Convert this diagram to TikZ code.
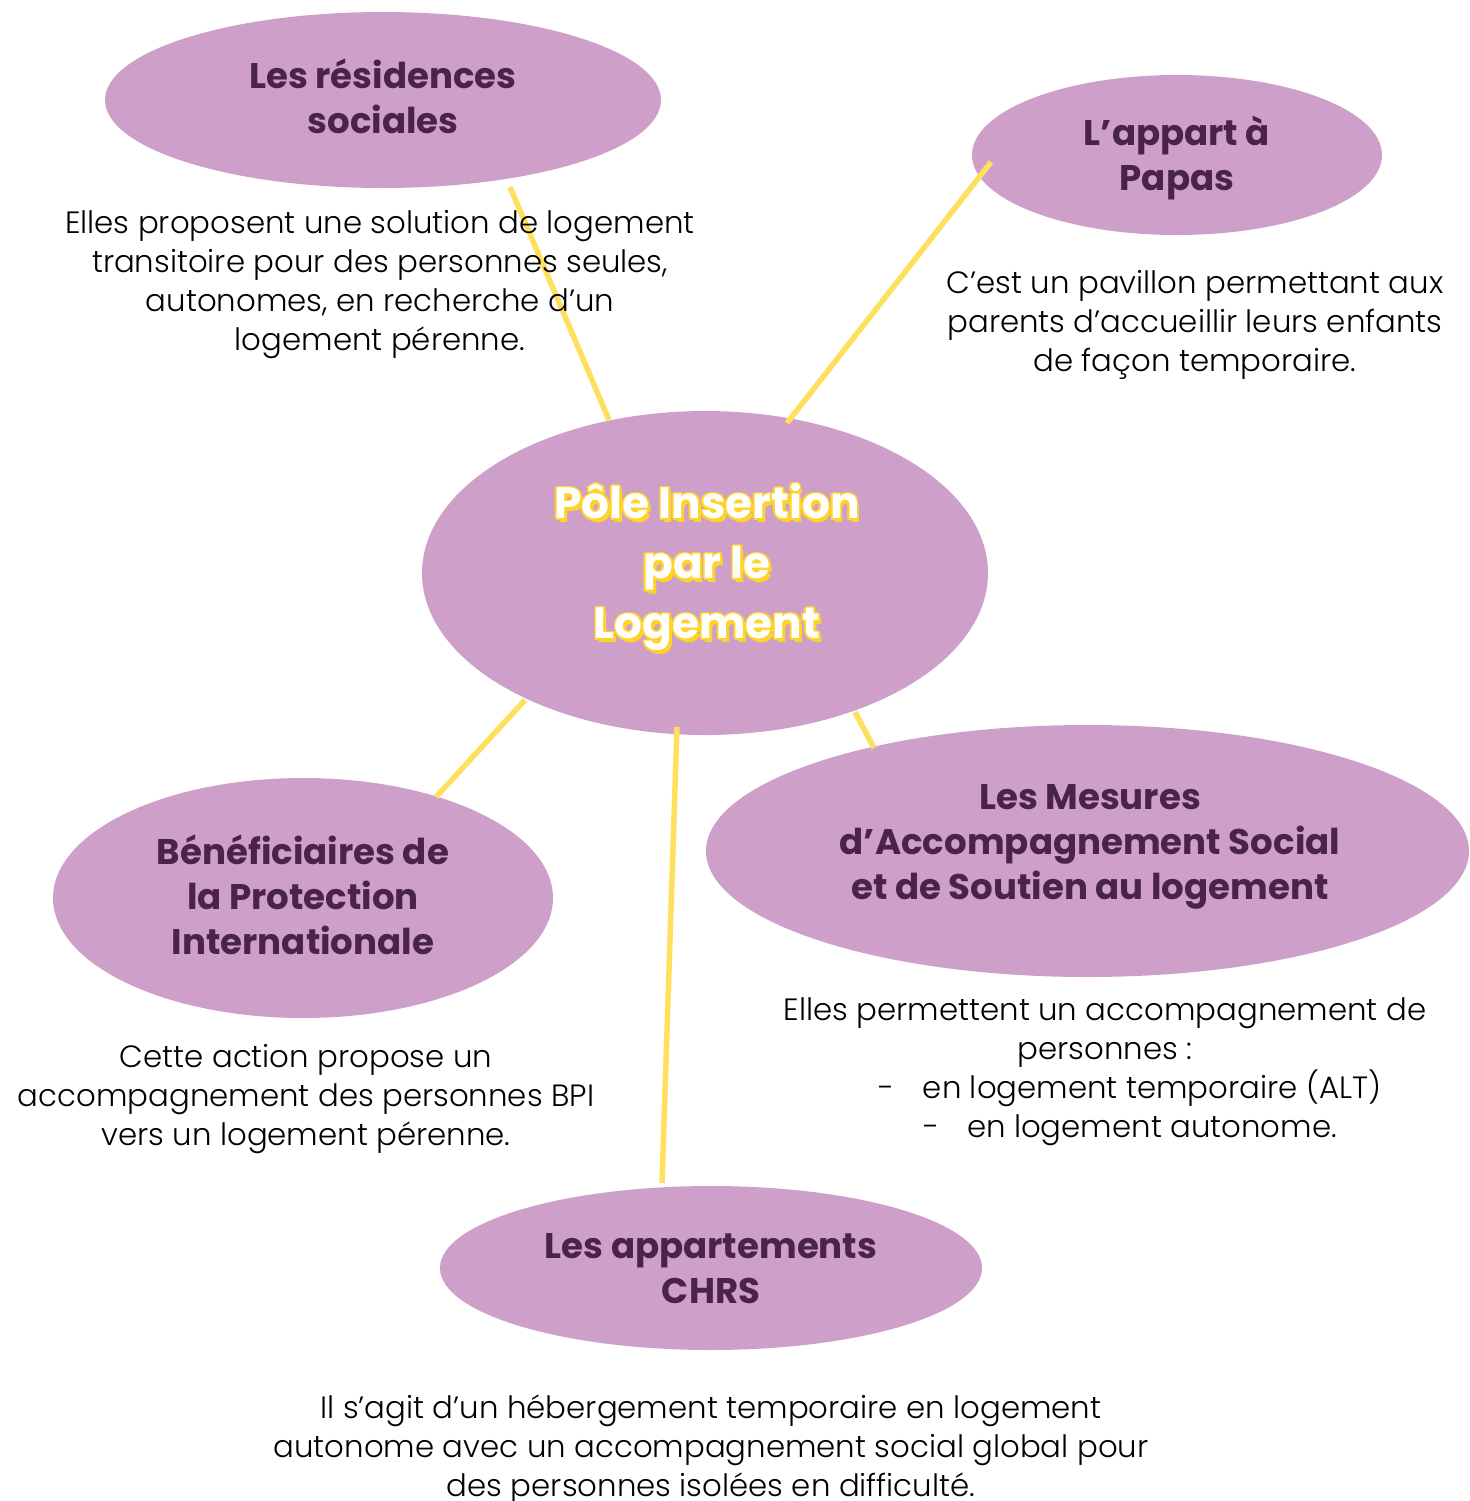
\documentclass[tikz,border=0pt]{standalone}
\usepackage{fontspec}
\setmainfont{Poppins}
\IfFontExistsTF{Poppins Light}{\newfontfamily\descfont{Poppins Light}}{\newfontfamily\descfont{Poppins}}
\usetikzlibrary{shapes.geometric}
\definecolor{bubblefill}{HTML}{CE9FC9}
\definecolor{headc}{HTML}{4A2448}
\definecolor{linky}{HTML}{FFDF5E}
\definecolor{titley}{HTML}{FFD42A}
\newcommand\ttlline[1]{\leavevmode
 \rlap{\color{titley}\kern1.4pt\raisebox{-1.6pt}{#1}}%
 \rlap{\color{titley}\kern0.9pt#1}%
 \rlap{\color{titley}\kern-0.9pt#1}%
 \rlap{\color{titley}\raisebox{0.9pt}{#1}}%
 \rlap{\color{titley}\raisebox{-0.9pt}{#1}}%
 \rlap{\color{titley}\kern0.65pt\raisebox{0.65pt}{#1}}%
 \rlap{\color{titley}\kern-0.65pt\raisebox{0.65pt}{#1}}%
 \rlap{\color{titley}\kern0.65pt\raisebox{-0.65pt}{#1}}%
 \rlap{\color{titley}\kern-0.65pt\raisebox{-0.65pt}{#1}}%
 {\color{white}#1}}
\begin{document}
\begin{tikzpicture}[x=0.5pt,y=-0.5pt,
  bubble/.style={ellipse, fill=bubblefill, inner sep=0pt},
  head/.style={text=headc, font=\bfseries\fontsize{17.8}{22.4}\selectfont, align=center, inner sep=0pt},
  title/.style={font=\bfseries\fontsize{21.9}{30}\selectfont, align=center, inner sep=0pt},
  desc/.style={font=\descfont\fontsize{15.4}{19.5}\selectfont, align=center, inner sep=0pt, text=black},
  link/.style={draw=linky, line width=2.75pt}]
\useasboundingbox (0,0) rectangle (1469,1501);
% ellipses
\node[bubble, minimum width=278pt, minimum height=88pt] (res) at (383,100) {};
\node[bubble, minimum width=205pt, minimum height=80pt] (papas) at (1177,155) {};
\node[bubble, minimum width=283pt, minimum height=162pt] (pole) at (705,573) {};
\node[bubble, minimum width=250pt, minimum height=120pt] (bpi) at (303,898) {};
\node[bubble, minimum width=381.5pt, minimum height=126pt] (mass) at (1087.5,851) {};
\node[bubble, minimum width=271pt, minimum height=82pt] (chrs) at (711,1268) {};
% connectors
\draw[link] ([shift={(127,87)}]res.center) -- ([shift={(-96,-153)}]pole.center);
\draw[link] ([shift={(-186,7)}]papas.center) -- ([shift={(82,-150)}]pole.center);
\draw[link] ([shift={(-180,127)}]pole.center) -- ([shift={(133,-101)}]bpi.center);
\draw[link] ([shift={(-28,154)}]pole.center) -- ([shift={(-49,-85)}]chrs.center);
\draw[link] ([shift={(150,139)}]pole.center) -- ([shift={(-213.5,-103)}]mass.center);
% headings
\node[head] (res-t) at (383,96) {Les résidences\\sociales};
\node[head] (papas-t) at (1177,158) {L’appart à\\Papas};
\node[title] (pole-t) at (707,568) {\ttlline{Pôle Insertion}\\\ttlline{par le}\\\ttlline{Logement}};
\node[head] (bpi-t) at (303,895) {Bénéficiaires de\\la Protection\\Internationale};
\node[head] (mass-t) at (1090,847) {Les Mesures\\d’Accompagnement Social\\et de Soutien au logement};
\node[head] (chrs-t) at (711,1269) {Les appartements\\CHRS};
% descriptions
\node[desc] (res-d) at (380,285) {Elles proposent une solution de logement\\transitoire pour des personnes seules,\\autonomes, en recherche d’un\\logement pérenne.};
\node[desc] (papas-d) at (1195,325) {C’est un pavillon permettant aux\\parents d’accueillir leurs enfants\\de façon temporaire.};
\node[desc] (bpi-d) at (306,1099) {Cette action propose un\\accompagnement des personnes BPI\\vers un logement pérenne.};
\node[desc] (mass-d) at (1105,1072) {Elles permettent un accompagnement de\\personnes :\\\hspace*{25pt}\makebox[22pt][l]{-}en logement temporaire (ALT)\\\hspace*{25pt}\makebox[22pt][l]{-}en logement autonome.};
\node[desc] (chrs-d) at (711,1450) {Il s’agit d’un hébergement temporaire en logement\\autonome avec un accompagnement social global pour\\des personnes isolées en difficulté.};
\end{tikzpicture}
\end{document}
